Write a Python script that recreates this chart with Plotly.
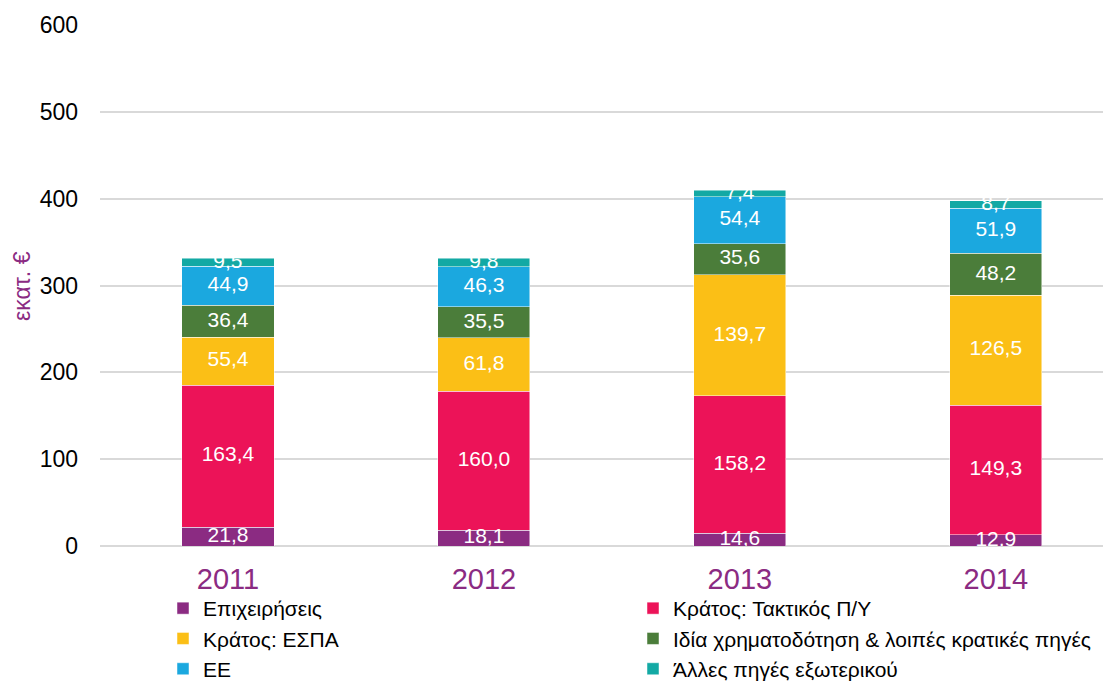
import plotly.graph_objects as go
import numpy as np

years = ["2011", "2012", "2013", "2014"]
series_names = ["Επιχειρήσεις", "Κράτος: Τακτικός Π/Υ", "Κράτος: ΕΣΠΑ",
                "Ιδία χρηματοδότηση & λοιπές κρατικές πηγές", "ΕΕ", "Άλλες πηγές εξωτερικού"]
epixeiriseis = [21.8, 18.1, 14.6, 12.9]
taktikos = [163.4, 160.0, 158.2, 149.3]
espa = [55.4, 61.8, 139.7, 126.5]
idia = [36.4, 35.5, 35.6, 48.2]
ee = [44.9, 46.3, 54.4, 51.9]
alles = [9.5, 9.8, 7.4, 8.7]
y_ticks = [0, 100, 200, 300, 400, 500, 600]

series = [epixeiriseis, taktikos, espa, idia, ee, alles]
colors = ["#8B2B82", "#EC1358", "#FBBF16", "#4B7D3A", "#1BA8DF", "#13A9A4"]

FONT = "Liberation Sans, Arial, sans-serif"
xpos = list(range(len(years)))

# the page body has an 8px margin, so the figure starts at (8, 8) on screen
OFF = 8
W, H = 1111 - OFF, 682 - OFF
ML, MT = 100 - OFF, 25 - OFF
MR = 0
MB = H - (546 - OFF)
plot_w = W - ML - MR
plot_h = H - MT - MB

def px_x(sx):
    return (sx - OFF - ML) / plot_w

def px_y(sy):
    return (H - MB - (sy - OFF)) / plot_h

fig = go.Figure()
base = np.zeros(len(years))
label_x, label_y, label_t = [], [], []
for name, vals, col in zip(series_names, series, colors):
    v = np.array(vals)
    fig.add_trace(go.Bar(
        x=xpos, y=vals, name=name,
        marker=dict(color=col, line=dict(color="rgba(255,255,255,0.6)", width=0.8)),
        width=0.36, hoverinfo="y+name"))
    mids = base + v / 2
    for i in range(len(years)):
        label_x.append(xpos[i])
        label_y.append(mids[i])
        label_t.append(f"{vals[i]:.1f}".replace(".", ","))
    base = base + v

fig.add_trace(go.Scatter(
    x=label_x, y=label_y, text=label_t, mode="text", showlegend=False,
    textfont=dict(color="white", size=21, family=FONT), hoverinfo="skip"))

fig.update_layout(
    barmode="stack",
    width=W, height=H,
    margin=dict(l=ML, r=MR, t=MT, b=MB, autoexpand=False),
    paper_bgcolor="white", plot_bgcolor="white",
    font=dict(family=FONT, color="black"),
    xaxis=dict(range=[-0.5, 3.45], tickvals=xpos, ticktext=years,
               tickfont=dict(size=29, color="#8B2B82", family=FONT),
               showgrid=False, zeroline=False, showline=False, ticks="",
               ticklabelstandoff=13),
    yaxis=dict(range=[0, 600], tickvals=y_ticks, tickfont=dict(size=23, color="black", family=FONT),
               showgrid=True, gridcolor="#D9D9D9", gridwidth=1.5,
               zeroline=True, zerolinecolor="#D9D9D9", zerolinewidth=1.5,
               ticks="", ticklabelstandoff=21),
    legend=dict(orientation="h", x=px_x(163), xanchor="left",
                y=px_y(588), yanchor="top", bgcolor="rgba(0,0,0,0)",
                entrywidth=425, font=dict(size=21, color="black", family=FONT),
                traceorder="normal", itemwidth=30),
    showlegend=True,
    annotations=[dict(text="εκατ. €", textangle=-90,
                      x=px_x(22), xref="paper", xanchor="center",
                      y=px_y(286), yref="paper", yanchor="middle",
                      showarrow=False, font=dict(size=23, color="#8B2B82", family=FONT))],
)

fig.write_html("out.html")
